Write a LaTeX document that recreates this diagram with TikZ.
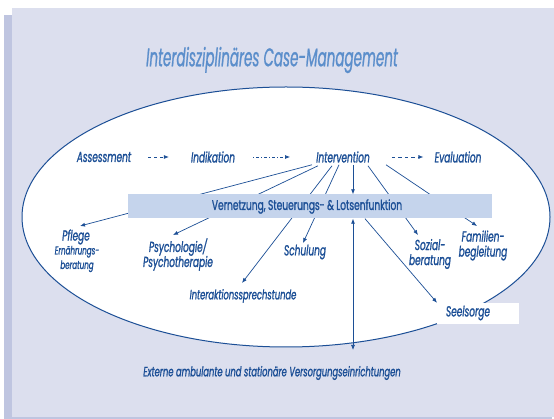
\documentclass[tikz,border=0pt]{standalone}
\usepackage{fontspec}
\newfontfamily\lblfont{Poppins}[FakeStretch=0.62,FakeBold=1.2]
\newfontfamily\ttlfont{Poppins}[FakeStretch=0.53,FakeBold=0.8]
\newfontfamily\bxfont{Poppins}[FakeStretch=0.65,FakeBold=1.2]
\usetikzlibrary{arrows.meta,calc}
\definecolor{panel}{HTML}{DCDFEE}
\definecolor{shadowc}{HTML}{BFC5E0}
\definecolor{dblue}{HTML}{1C4F96}
\definecolor{tblue}{HTML}{5B8ECB}
\definecolor{boxfill}{HTML}{C5D4EC}
\begin{document}
\begin{tikzpicture}[x=1pt,y=-1pt,
  lbl/.style={font=\lblfont\itshape\fontsize{14.5}{15}\selectfont, text=dblue, inner sep=0pt, align=center},
  smalllbl/.style={font=\lblfont\itshape\fontsize{11.5}{14.5}\selectfont, text=dblue, inner sep=0pt, align=center},
  ttl/.style={font=\ttlfont\itshape\fontsize{25.5}{26}\selectfont, text=tblue, inner sep=0pt},
  conn/.style={draw=dblue, line width=0.7pt},
  arr/.style={conn, -{Latex[length=5pt,width=4pt]}},
  darr/.style={conn, {Latex[length=5pt,width=4pt]}-{Latex[length=5pt,width=4pt]}},
]
\useasboundingbox (0,0) rectangle (554,419);
\fill[shadowc] (4,15) rectangle (552,419);
\fill[panel] (12,8) rectangle (554,416.5);
\node[ttl] (title) at (272,60) {Interdisziplinäres Case-Management};
\draw[dblue, line width=1pt, fill=white] (286,217) ellipse [x radius=264, y radius=130];
% process row
\node[lbl] (ass) at (104,157) {Assessment};
\node[lbl] (ind) at (213,157) {Indikation};
\node[lbl] (int) at (343,157) {Intervention};
\node[lbl] (eva) at (458,157) {Evaluation};
\draw[arr, dash pattern=on 3pt off 3pt, shorten <=17pt, shorten >=22pt] (ass.east) -- (ind.west);
\draw[arr, dash pattern=on 1pt off 2pt on 3pt off 2pt, shorten <=18pt, shorten >=26pt] (ind.east) -- (int.west);
\draw[arr, dash pattern=on 3.5pt off 3pt, shorten <=22pt, shorten >=11pt] (int.east) -- (eva.west);
% labels
\node[lbl] (pflege) at (76,237) {Pflege};
\node[smalllbl] (pflege2) at (77,259) {Ernährungs-\\beratung};
\node[lbl] (psych) at (178,254.5) {Psychologie/\\Psychotherapie};
\node[lbl, font=\lblfont\itshape\fontsize{13.5}{15}\selectfont] (inter) at (243,296) {Interaktionssprechstunde};
\node[lbl] (schul) at (305,252) {Schulung};
\node[lbl] (sozial) at (430,254) {Sozial-\\beratung};
\node[lbl] (fam) at (483,245.5) {Familien-\\begleitung};
\node[lbl, font=\lblfont\itshape\fontsize{13.5}{15}\selectfont] (ext) at (272,373) {Externe ambulante und stationäre Versorgungseinrichtungen};
% arrow tips
\coordinate (tPflege) at (80,226);
\coordinate (tPsych) at (173,235);
\coordinate (tInter) at (242,283);
\coordinate (tSchul) at (303,243);
\coordinate (tSozial) at (418,235);
\coordinate (tFam) at (477,226);
\coordinate (tExt) at (353,350);
% fan from Intervention
\draw[arr] ($(int.south)+(-31,2)$) -- (tPflege);
\draw[arr] ($(int.south)+(-25,3)$) -- (tPsych);
\draw[arr] ($(int.south)+(-11,3)$) -- (tInter);
\draw[arr] ($(int.south)+(-4,2)$) -- (tSchul);
\draw[arr] ($(int.south)+(25,3)$) -- (tSozial);
\draw[arr] ($(int.south)+(43,2)$) -- (tFam);
% central box
\node[fill=boxfill, minimum width=364pt, minimum height=24pt, inner sep=0pt,
  font=\bxfont\fontsize{14}{15}\selectfont, text=dblue] (vbox) at (310,206.5)
  {\hspace{-6pt}Vernetzung, Steuerungs- \& Lotsenfunktion};
\draw[arr] ($(int.south)+(10,2)$) -- ($(vbox.north)+(43,0)$);
% Seelsorge
\node[fill=white, anchor=west, minimum width=82pt, minimum height=21pt, inner sep=0pt] (seel) at (437,313.5) {};
\node[lbl] (seeltxt) at (468,313) {Seelsorge};
\draw[arr] ($(vbox.south)+(55,0)$) -- (seel.north west);
\draw[darr] ($(vbox.south)+(43,0)$) -- (tExt);
\end{tikzpicture}
\end{document}
